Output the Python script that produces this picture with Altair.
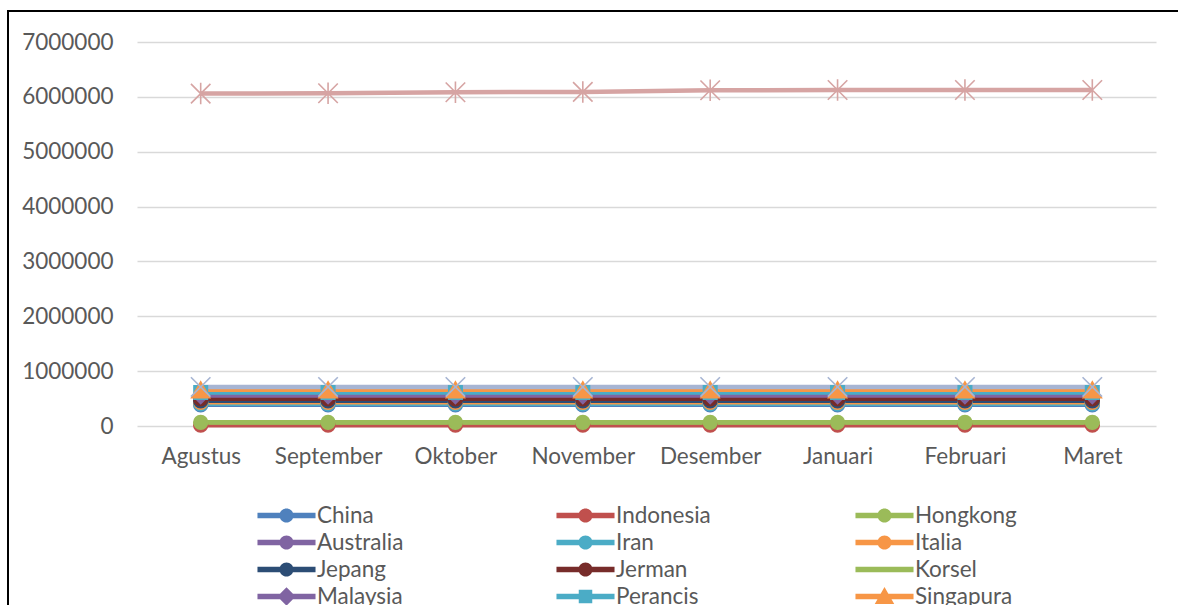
import altair as alt
import pandas as pd

# Months on the category axis
months = ["Agustus", "September", "Oktober", "November", "Desember",
          "Januari", "Februari", "Maret"]

# Country series, in drawing / legend order
names = ["China", "Indonesia", "Hongkong", "Australia", "Iran", "Italia",
         "Jepang", "Jerman", "Korsel", "Malaysia", "Perancis", "Singapura",
         "Thailand", "USA"]

china     = [386000, 386000, 386000, 386000, 386000, 386000, 386000, 386000]
indonesia = [15000, 15000, 15000, 15000, 15000, 15000, 15000, 15000]
hongkong  = [67000, 67000, 67000, 67000, 67000, 67000, 67000, 67000]
australia = [526000, 526000, 526000, 526000, 526000, 526000, 526000, 526000]
iran      = [406000, 406000, 406000, 406000, 406000, 406000, 406000, 406000]
italia    = [432000, 432000, 432000, 432000, 432000, 432000, 432000, 432000]
jepang    = [461000, 461000, 461000, 461000, 461000, 461000, 461000, 461000]
jerman    = [495000, 495000, 495000, 495000, 495000, 495000, 495000, 495000]
korsel    = [65000, 65000, 65000, 65000, 65000, 65000, 65000, 65000]
malaysia  = [556000, 556000, 556000, 556000, 556000, 556000, 556000, 556000]
perancis  = [610000, 610000, 610000, 610000, 610000, 610000, 610000, 610000]
singapura = [660000, 660000, 660000, 660000, 660000, 660000, 660000, 660000]
thailand  = [712000, 712000, 712000, 712000, 712000, 712000, 712000, 712000]
usa       = [6060000, 6065000, 6085000, 6090000, 6120000, 6125000, 6125000, 6125000]

values = [china, indonesia, hongkong, australia, iran, italia, jepang, jerman,
          korsel, malaysia, perancis, singapura, thailand, usa]

colors = ["#4F81BD", "#C0504D", "#9BBB59", "#8064A2", "#4BACC6", "#F79646",
          "#2C4D75", "#772C2A", "#9BBB59", "#8064A2", "#4BACC6", "#F79646",
          "#A7B5D3", "#D6A4A3"]

# Marker glyphs on the plotted points
X_PATH = "M-1,-1L1,1M-1,1L1,-1"
STAR_PATH = "M-1,-1L1,1M-1,1L1,-1M0,-1.1L0,1.1"
marker_shapes = ["circle"] * 9 + ["diamond", "square", "triangle-up", X_PATH, STAR_PATH]
marker_sizes = [190, 190, 190, 190, 190, 190, 190, 190, 190, 260, 180, 330, 380, 380]

# Legend glyphs: a short line with the marker on it
LINE = "M-2.15,-0.21H2.15V0.21H-2.15Z"
CIRC = "M0.52,0A0.52,0.52 0 1,1 -0.52,0A0.52,0.52 0 1,1 0.52,0Z"
DIAM = "M0,-0.68L0.68,0L0,0.68L-0.68,0Z"
SQR = "M-0.5,-0.5H0.5V0.5H-0.5Z"
TRI = "M0,-0.7L0.72,0.55H-0.72Z"
XL = "M-0.7,-0.62L-0.55,-0.75L0.7,0.62L0.55,0.75ZM0.55,-0.75L0.7,-0.62L-0.55,0.75L-0.7,0.62Z"
legend_shapes = [LINE + CIRC] * 8 + [LINE, LINE + DIAM, LINE + SQR, LINE + TRI, LINE + XL, LINE + XL]

rows = []
for i, (name, vals) in enumerate(zip(names, values)):
    for m, v in zip(months, vals):
        rows.append({"series": name, "month": m, "value": v, "idx": i})
df = pd.DataFrame(rows)

FONT = "Lato"
TEXT = "#595959"
FS = 22.5

x_enc = alt.X("month:N", sort=months,
              scale=alt.Scale(type="point", padding=0.5),
              axis=alt.Axis(title=None, labelAngle=0, ticks=False, domain=False,
                            grid=False, labelFont=FONT, labelFontSize=FS,
                            labelColor=TEXT, labelPadding=19))
y_enc = alt.Y("value:Q", scale=alt.Scale(domain=[0, 7000000], nice=False),
              axis=alt.Axis(title=None, values=list(range(0, 7000001, 1000000)),
                            format="d", ticks=False, domain=False,
                            gridColor="#D9D9D9", gridWidth=1.5,
                            labelFont=FONT, labelFontSize=FS, labelColor=TEXT,
                            labelPadding=24))

base = alt.Chart(df)

lines = base.mark_line(strokeWidth=4.5, opacity=1).encode(
    x=x_enc, y=y_enc,
    color=alt.Color("series:N", scale=alt.Scale(domain=names, range=colors), legend=None),
)

points = base.transform_filter(alt.datum.series != "Korsel").mark_point(
    filled=True, opacity=1, strokeWidth=1.6
).encode(
    x=x_enc, y=y_enc,
    fill=alt.Fill("series:N", scale=alt.Scale(domain=names, range=colors), legend=None),
    stroke=alt.Stroke("series:N", scale=alt.Scale(domain=names, range=colors), legend=None),
    shape=alt.Shape("series:N", scale=alt.Scale(domain=names, range=marker_shapes), legend=None),
    size=alt.Size("series:N", scale=alt.Scale(type="ordinal", domain=names, range=marker_sizes), legend=None),
    order=alt.Order("idx:Q"),
)

leg = alt.Legend(
    title=None, orient="none", legendX=136, legendY=460, columns=3,
    direction="horizontal",
    symbolSize=729, symbolStrokeWidth=0, labelFont=FONT, labelFontSize=FS,
    labelColor=TEXT, labelOffset=17, columnPadding=137, rowPadding=2,
    gridAlign="all", labelLimit=400,
)

legend_layer = base.transform_filter("false").mark_point(filled=True, opacity=1).encode(
    color=alt.Color("series:N", scale=alt.Scale(domain=names, range=colors), legend=leg),
    shape=alt.Shape("series:N", scale=alt.Scale(domain=names, range=legend_shapes), legend=leg),
)

# Outer chart border
frame = alt.Chart(pd.DataFrame({"k": [0]})).mark_rect(
    fillOpacity=0, stroke="#000000", strokeWidth=2
).encode(x=alt.value(-129), x2=alt.value(1400), y=alt.value(-31), y2=alt.value(900))

chart = alt.layer(frame, lines, points, legend_layer).resolve_scale(
    color="independent", shape="independent"
).properties(
    width=1019, height=384,
    autosize=alt.AutoSizeParams(type="none"),
    padding={"left": 137, "top": 42, "right": 22, "bottom": 179},
    background="#FFFFFF",
).configure_view(stroke=None)

chart.save("out.html", embed_options={"renderer": "svg", "actions": False})
